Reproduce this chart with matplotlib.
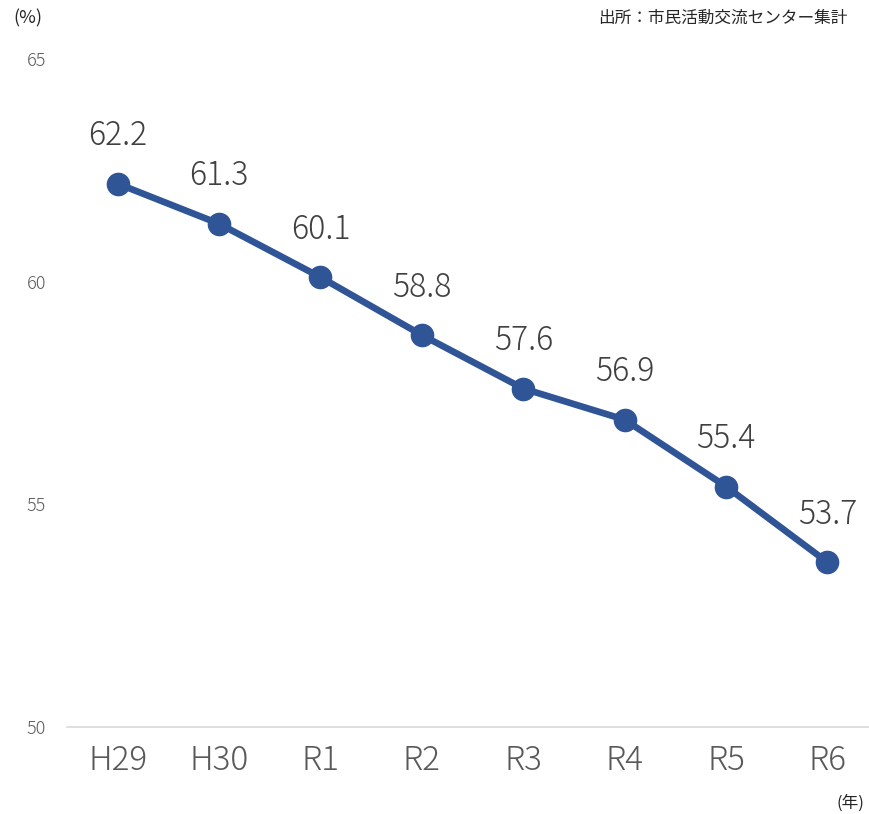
import matplotlib.pyplot as plt

plt.rcParams['font.family'] = ['Noto Sans CJK JP', 'DejaVu Sans']

years = ['H29', 'H30', 'R1', 'R2', 'R3', 'R4', 'R5', 'R6']
rates = [62.2, 61.3, 60.1, 58.8, 57.6, 56.9, 55.4, 53.7]
yticks = [50, 55, 60, 65]

fig = plt.figure(figsize=(8.69, 8.14), dpi=100)
ax = fig.add_axes([67 / 869, (814 - 727) / 814, 802 / 869, 668 / 814])

x = list(range(len(years)))
ax.plot(x, rates, color='#2F5597', linewidth=4.8, marker='o', markersize=16,
        markerfacecolor='#2F5597', markeredgecolor='#2F5597', clip_on=False)

# data labels above each point
for xi, v in zip(x, rates):
    ax.annotate(f'{v:.1f}', (xi, v), xytext=(0, 22), textcoords='offset points',
                ha='center', va='bottom', fontsize=23, color='#404040',
                fontweight='light')

ax.set_xlim(-0.5, 7.41)
ax.set_ylim(50, 65)
ax.set_yticks(yticks)
ax.set_yticklabels([str(t) for t in yticks], fontsize=13, color='#595959',
                   fontweight='light')
ax.set_xticks(x)
ax.set_xticklabels(years, fontsize=24, color='#595959', fontweight='light')
ax.tick_params(axis='both', length=0)
ax.tick_params(axis='y', pad=15)
ax.tick_params(axis='x', pad=12)

for s in ['top', 'right', 'left']:
    ax.spines[s].set_visible(False)
ax.spines['bottom'].set_color('#D9D9D9')
ax.spines['bottom'].set_linewidth(1.2)

fig.text(28 / 869, 1 - 18 / 814, '(%)', ha='center', va='center', fontsize=13, color='#262626')
fig.text(848 / 869, 1 - 18 / 814, '出所：市民活動交流センター集計', ha='right', va='center',
         fontsize=12, color='#262626')
fig.text(850 / 869, 1 - 803 / 814, '(年)', ha='center', va='center', fontsize=12, color='#262626')

fig.savefig('out.png', dpi=100)
